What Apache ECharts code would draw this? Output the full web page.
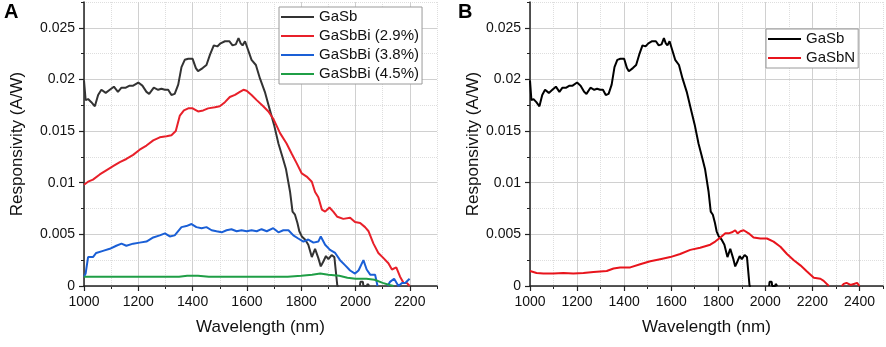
<!DOCTYPE html>
<html>
<head>
<meta charset="utf-8">
<script src="https://cdn.jsdelivr.net/npm/echarts@6/dist/echarts.min.js"></script>
<style>
  html, body { margin: 0; padding: 0; background: #fff; }
  #main { width: 886px; height: 347px; }
</style>
</head>
<body>
<div id="main"></div>
<script>
// responsivity spectra, [wavelength nm, A/W]; null = gap where the trace sits off the plot
const gasb = [[1000,0.0199],[1006,0.018],[1015,0.0181],[1027,0.0178],[1040,0.0174],[1052,0.0185],[1064,0.019],[1080,0.0187],[1095,0.019],[1110,0.0193],[1125,0.0188],[1138,0.0192],[1154,0.0192],[1168,0.0194],[1181,0.0194],[1200,0.0197],[1215,0.0194],[1230,0.0188],[1240,0.0186],[1257,0.0192],[1273,0.019],[1285,0.0191],[1298,0.019],[1310,0.019],[1322,0.0185],[1334,0.0186],[1347,0.0195],[1359,0.0212],[1371,0.0219],[1384,0.022],[1400,0.022],[1412,0.0211],[1420,0.0208],[1437,0.0211],[1451,0.0214],[1464,0.0224],[1478,0.0233],[1491,0.0232],[1503,0.0235],[1519,0.0237],[1535,0.0237],[1547,0.0233],[1559,0.0234],[1569,0.024],[1577,0.0235],[1584,0.0233],[1593,0.0237],[1605,0.0228],[1617,0.0219],[1633,0.0214],[1648,0.0201],[1666,0.0188],[1685,0.017],[1700,0.0156],[1716,0.0138],[1732,0.0124],[1744,0.0113],[1750,0.0112],[1759,0.0091],[1768,0.0072],[1777,0.0069],[1786,0.0061],[1793,0.0053],[1802,0.0048],[1814,0.0045],[1826,0.004],[1839,0.0028],[1851,0.0036],[1863,0.0027],[1872,0.0019],[1882,0.0024],[1891,0.0029],[1900,0.0026],[1912,0.003],[1922,0.0028],[1933,0],[1938,0],[1980,null],[2016,0],[2018,0.0004],[2027,0.0004],[2029,0],[2042,0],[2044,0.0002],[2049,0.0002],[2051,0]];

const gasbbi29 = [[1000,0.0098],[1015,0.0101],[1033,0.0103],[1058,0.0108],[1082,0.0112],[1107,0.0116],[1132,0.012],[1156,0.0123],[1181,0.0127],[1205,0.0132],[1230,0.0136],[1255,0.0141],[1279,0.0144],[1304,0.0145],[1322,0.0146],[1338,0.015],[1353,0.0165],[1368,0.017],[1384,0.0172],[1400,0.0172],[1420,0.0169],[1439,0.017],[1457,0.0172],[1482,0.0173],[1500,0.0174],[1519,0.0178],[1537,0.0183],[1556,0.0185],[1574,0.0188],[1587,0.019],[1599,0.0189],[1617,0.0185],[1636,0.018],[1660,0.0174],[1679,0.0169],[1697,0.0162],[1722,0.0148],[1746,0.0138],[1765,0.0128],[1783,0.0119],[1802,0.0109],[1820,0.0106],[1839,0.0101],[1851,0.0091],[1863,0.0086],[1876,0.0074],[1888,0.0072],[1904,0.0076],[1918,0.0072],[1933,0.0067],[1955,0.0065],[1980,0.0066],[1998,0.0062],[2017,0.0061],[2035,0.0057],[2048,0.0053],[2066,0.0041],[2084,0.0032],[2103,0.0027],[2121,0.0022],[2134,0.0016],[2150,0.0018],[2164,0.0009],[2177,0.0003],[2189,0.0003],[2199,0]];

const gasbbi38 = [[1000,0.0009],[1006,0.0012],[1015,0.0028],[1033,0.0028],[1045,0.0032],[1070,0.0034],[1095,0.0036],[1119,0.0039],[1138,0.0041],[1156,0.0039],[1181,0.0041],[1205,0.0042],[1230,0.0043],[1255,0.0047],[1279,0.0049],[1298,0.0051],[1316,0.0048],[1334,0.0049],[1359,0.0057],[1377,0.0058],[1396,0.006],[1414,0.0057],[1433,0.0056],[1451,0.0057],[1470,0.0054],[1488,0.0053],[1507,0.0052],[1525,0.0054],[1543,0.0055],[1562,0.0053],[1580,0.0054],[1599,0.0053],[1617,0.0054],[1636,0.0053],[1654,0.0055],[1673,0.0053],[1697,0.0056],[1716,0.0052],[1734,0.0054],[1753,0.0054],[1771,0.0049],[1789,0.0046],[1808,0.0043],[1826,0.0045],[1845,0.0042],[1863,0.0043],[1872,0.0048],[1888,0.004],[1906,0.0035],[1925,0.0032],[1943,0.0025],[1962,0.002],[1980,0.0015],[1998,0.0012],[2011,0.0015],[2029,0.0025],[2041,0.0016],[2054,0.0011],[2072,0.0011],[2081,0],[2100,null],[2118,0],[2127,0.0004],[2142,0.0007],[2158,0],[2171,0.0003],[2183,0.0003],[2199,0.0007]];

const gasbbi45 = [[1000,0.0009],[1100,0.0009],[1200,0.0009],[1300,0.0009],[1350,0.0009],[1380,0.001],[1420,0.001],[1460,0.0009],[1550,0.0009],[1650,0.0009],[1750,0.0009],[1800,0.001],[1840,0.0011],[1870,0.0012],[1900,0.0011],[1940,0.001],[1970,0.0008],[2000,0.0007],[2040,0.0007],[2070,0.0006],[2100,0.0003],[2125,0.0001],[2140,0]];

const gasbn = [[1000,0.00145],[1028,0.00126],[1057,0.0012],[1099,0.0012],[1142,0.00125],[1184,0.0012],[1227,0.00125],[1270,0.00135],[1326,0.00145],[1355,0.0017],[1383,0.0018],[1426,0.0018],[1468,0.0021],[1511,0.0024],[1553,0.0026],[1596,0.0028],[1638,0.0031],[1681,0.0035],[1723,0.0037],[1766,0.004],[1787,0.0043],[1809,0.0047],[1830,0.0051],[1844,0.0051],[1858,0.0052],[1872,0.0054],[1882,0.0051],[1894,0.0053],[1908,0.0054],[1929,0.0051],[1950,0.0047],[1979,0.0046],[2007,0.0046],[2035,0.0043],[2064,0.0038],[2092,0.0031],[2121,0.0025],[2149,0.002],[2177,0.0014],[2206,0.0008],[2234,0.0007],[2248,0.0005],[2270,0],[2300,null],[2325,0],[2333,0.0002],[2345,0.0003],[2362,0.0001],[2376,0.0002],[2390,0.0003],[2400,0]];

const namesA = ['GaSb', 'GaSbBi (2.9%)', 'GaSbBi (3.8%)', 'GaSbBi (4.5%)'];
const namesB = ['GaSb', 'GaSbN'];
const colorsA = ['#333333', '#e8202a', '#1a5fd6', '#1f9e46'];
const colorsB = ['#000000', '#e8141c'];

const FONT = 'Arial, "Liberation Sans", sans-serif';
const AXIS = '#222';

function majorX(grid, max) {
  return {
    type: 'value', gridIndex: grid, min: 1000, max: max, interval: 200, z: 3,
    name: 'Wavelength (nm)', nameLocation: 'middle', nameGap: 33,
    nameTextStyle: { fontSize: 17, color: '#111', fontFamily: FONT },
    axisLine: { onZero: false, lineStyle: { color: AXIS, width: 1.5 } },
    axisTick: { length: 5, lineStyle: { color: AXIS, width: 1.2 } },
    axisLabel: { fontSize: 14, color: '#111', fontFamily: FONT, margin: 9, showMaxLabel: false,
      formatter: v => String(v) },
    splitLine: { show: true, showMaxLine: false, lineStyle: { color: '#d0d0d0', width: 1 } }
  };
}
function minorX(grid, max) {
  return {
    type: 'value', gridIndex: grid, min: 1000, max: max, interval: 100, position: 'bottom', z: 1,
    axisLine: { show: false }, axisLabel: { show: false },
    axisTick: { length: 3, lineStyle: { color: AXIS, width: 1 } },
    splitLine: { show: true, lineStyle: { color: '#dedede', width: 1, type: 'dotted' } }
  };
}
function majorY(grid, gap) {
  return {
    type: 'value', gridIndex: grid, min: 0, max: 0.0275, interval: 0.005, z: 3,
    name: 'Responsivity (A/W)', nameLocation: 'middle', nameGap: gap,
    nameTextStyle: { fontSize: 17, color: '#111', fontFamily: FONT },
    axisLine: { show: true, lineStyle: { color: AXIS, width: 1.5 } },
    axisTick: { show: true, length: 5, lineStyle: { color: AXIS, width: 1.2 } },
    axisLabel: { fontSize: 14, color: '#111', fontFamily: FONT, margin: 9, showMaxLabel: false,
      formatter: v => (v === 0 ? '0' : String(+v.toFixed(4))) },
    splitLine: { show: true, showMaxLine: false, lineStyle: { color: '#d0d0d0', width: 1 } }
  };
}
function minorY(grid) {
  return {
    type: 'value', gridIndex: grid, min: 0, max: 0.0275, interval: 0.0025, position: 'left', z: 1,
    axisLine: { show: false }, axisLabel: { show: false },
    axisTick: { show: true, length: 3, lineStyle: { color: AXIS, width: 1 } },
    splitLine: { show: true, lineStyle: { color: '#dedede', width: 1, type: 'dotted' } }
  };
}

function line(name, data, color, xi, yi) {
  return {
    name: name, type: 'line', data: data, xAxisIndex: xi, yAxisIndex: yi,
    symbol: 'none', connectNulls: false, z: 5,
    lineStyle: { color: color, width: 2 }, itemStyle: { color: color }
  };
}

const legendBase = {
  orient: 'vertical', itemWidth: 33, itemHeight: 2, itemGap: 3,
  backgroundColor: '#fff', borderColor: '#9a9a9a', borderWidth: 1, borderRadius: 0,
  padding: [2, 3, 2, 2], selectedMode: false,
  textStyle: { fontSize: 15, color: '#111', fontFamily: FONT, lineHeight: 16 }
};
function legendItems(names, colors) {
  return names.map((n, i) => ({ name: n, icon: 'rect', itemStyle: { color: colors[i] } }));
}

const chart = echarts.init(document.getElementById('main'));
chart.setOption({
  animation: false,
  backgroundColor: '#fff',
  grid: [
    { left: 84, top: 2, width: 353, height: 284, outerBoundsMode: 'none' },
    { left: 530, top: 2, width: 353, height: 284, outerBoundsMode: 'none' }
  ],
  xAxis: [majorX(0, 2300), minorX(0, 2300), majorX(1, 2500), minorX(1, 2500)],
  yAxis: [majorY(0, 58), minorY(0), majorY(1, 48), minorY(1)],
  legend: [
    Object.assign({}, legendBase, { left: 279, top: 7, data: legendItems(namesA, colorsA) }),
    Object.assign({}, legendBase, { left: 766, top: 29, data: legendItems(namesB, colorsB) })
  ],
  graphic: [
    { type: 'text', left: 4, top: 2, style: { text: 'A', font: 'bold 20px ' + FONT, fill: '#000' } },
    { type: 'text', left: 458, top: 2, style: { text: 'B', font: 'bold 20px ' + FONT, fill: '#000' } }
  ],
  series: [
    line(namesA[0], gasb, colorsA[0], 0, 0),
    line(namesA[1], gasbbi29, colorsA[1], 0, 0),
    line(namesA[2], gasbbi38, colorsA[2], 0, 0),
    line(namesA[3], gasbbi45, colorsA[3], 0, 0),
    line(namesB[0], gasb, colorsB[0], 2, 2),
    line(namesB[1], gasbn, colorsB[1], 2, 2)
  ]
});
</script>
</body>
</html>
